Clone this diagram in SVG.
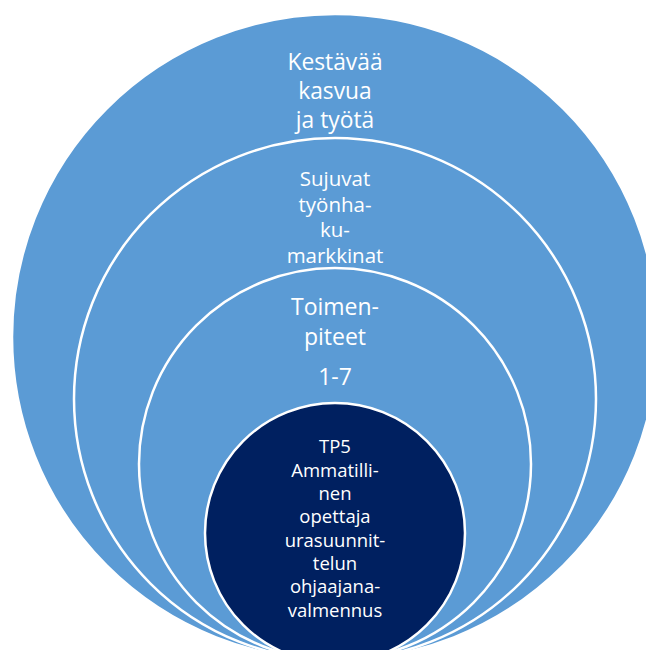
<svg xmlns="http://www.w3.org/2000/svg" width="646" height="650" viewBox="0 0 646 650">
<style>
.ring{fill:#5B9BD5;stroke:#FFFFFF;stroke-width:2.5}
.core{fill:#002060;stroke:#FFFFFF;stroke-width:2.5}
text{fill:#FFFFFF;font-family:"Open Sans","Noto Sans",sans-serif;text-anchor:middle}
.t1{font-size:22.8px}
.t2{font-size:20.5px}
.t3{font-size:23px}
.t4{font-size:18.5px}
</style>
<rect width="646" height="650" fill="#FFFFFF"/>
<g id="outer">
<circle class="ring" cx="335" cy="337" r="323"/>
<text class="t1" x="335" y="70">Kestävää</text>
<text class="t1" x="335" y="99">kasvua</text>
<text class="t1" x="335" y="128">ja työtä</text>
</g>
<g id="second">
<circle class="ring" cx="335" cy="399" r="261"/>
<text class="t2" x="335" y="186">Sujuvat</text>
<text class="t2" x="335" y="211.5">työnha-</text>
<text class="t2" x="335" y="237">ku-</text>
<text class="t2" x="335" y="263">markkinat</text>
</g>
<g id="third">
<circle class="ring" cx="335" cy="464" r="196"/>
<text class="t3" x="335" y="315">Toimen-</text>
<text class="t3" x="335" y="345">piteet</text>
<text class="t3" x="335" y="385">1-7</text>
</g>
<g id="core">
<circle class="core" cx="335" cy="533" r="130"/>
<text class="t4" x="335" y="453">TP5</text>
<text class="t4" x="335" y="476.5">Ammatilli-</text>
<text class="t4" x="335" y="500">nen</text>
<text class="t4" x="335" y="523">opettaja</text>
<text class="t4" x="335" y="546.5">urasuunnit-</text>
<text class="t4" x="335" y="570">telun</text>
<text class="t4" x="335" y="593">ohjaajana-</text>
<text class="t4" x="335" y="616.5">valmennus</text>
</g>
<g id="connectors"/>
</svg>
